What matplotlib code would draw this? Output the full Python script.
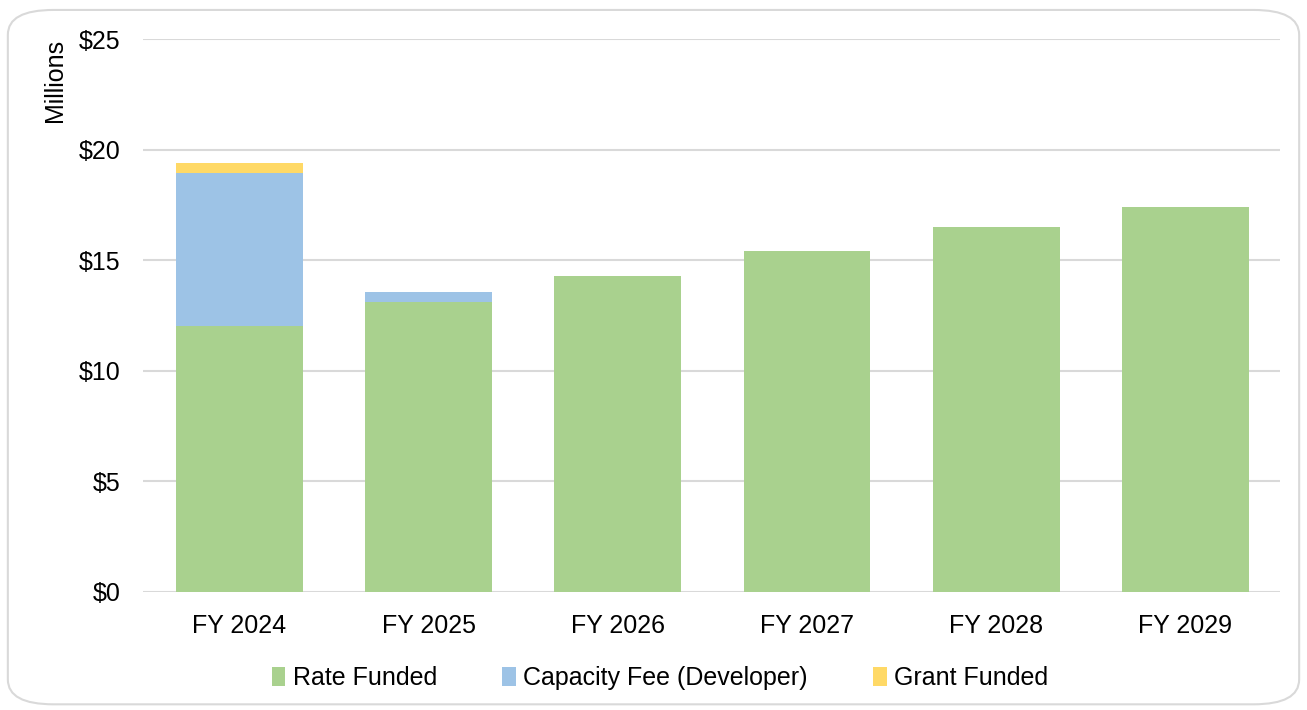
import numpy as np
import matplotlib.pyplot as plt
from matplotlib.patches import FancyBboxPatch

plt.rcParams['font.family'] = ['Liberation Sans', 'DejaVu Sans']

years = ['FY 2024', 'FY 2025', 'FY 2026', 'FY 2027', 'FY 2028', 'FY 2029']
rate_funded = [12.03, 13.10, 14.27, 15.43, 16.50, 17.40]
capacity_fee = [6.90, 0.45, 0, 0, 0, 0]
grant_funded = [0.46, 0, 0, 0, 0, 0]
yticks = [0, 5, 10, 15, 20, 25]

green = '#A9D18E'
blue = '#9DC3E6'
yellow = '#FFD966'
fs = 18

fig = plt.figure(figsize=(13.07, 7.10), dpi=100)
fig.patch.set_facecolor('white')

# rounded border around the whole chart
box = FancyBboxPatch((0.006, 0.008), 0.988, 0.978,
                     boxstyle='round,pad=0,rounding_size=0.035',
                     transform=fig.transFigure, facecolor='white',
                     edgecolor='#D9D9D9', linewidth=1.5, zorder=-5)
fig.patches.append(box)

ax = fig.add_axes([0.1094, 0.1662, 0.8700, 0.7788])
ax.set_zorder(2)
ax.set_facecolor('none')

x = np.arange(len(years))
w = 0.67
rate = np.array(rate_funded)
cap = np.array(capacity_fee)
grant = np.array(grant_funded)

ax.bar(x, rate, w, color=green, label='Rate Funded', zorder=3)
ax.bar(x, cap, w, bottom=rate, color=blue, label='Capacity Fee (Developer)', zorder=3)
ax.bar(x, grant, w, bottom=rate + cap, color=yellow, label='Grant Funded', zorder=3)

ax.set_xlim(-0.51, len(years) - 0.5)
ax.set_ylim(0, 25)
ax.set_yticks(yticks)
ax.set_yticklabels(['$' + str(v) for v in yticks], fontsize=fs)
ax.set_xticks(x)
ax.set_xticklabels(years, fontsize=fs)
ax.tick_params(axis='both', length=0)
ax.tick_params(axis='y', pad=16)
ax.tick_params(axis='x', pad=16)
ax.yaxis.grid(True, color='#D9D9D9', linewidth=1.5, zorder=0)
for s in ax.spines.values():
    s.set_visible(False)

fig.text(0.042, 0.945, 'Millions', rotation=90, fontsize=fs, ha='center', va='top')

leg = fig.legend(loc='center', bbox_to_anchor=(0.505, 0.045), ncol=3, frameon=False,
                 fontsize=fs, handlelength=0.55, handleheight=0.8, handletextpad=0.3,
                 columnspacing=2.6)

fig.savefig('out.png', dpi=100)
